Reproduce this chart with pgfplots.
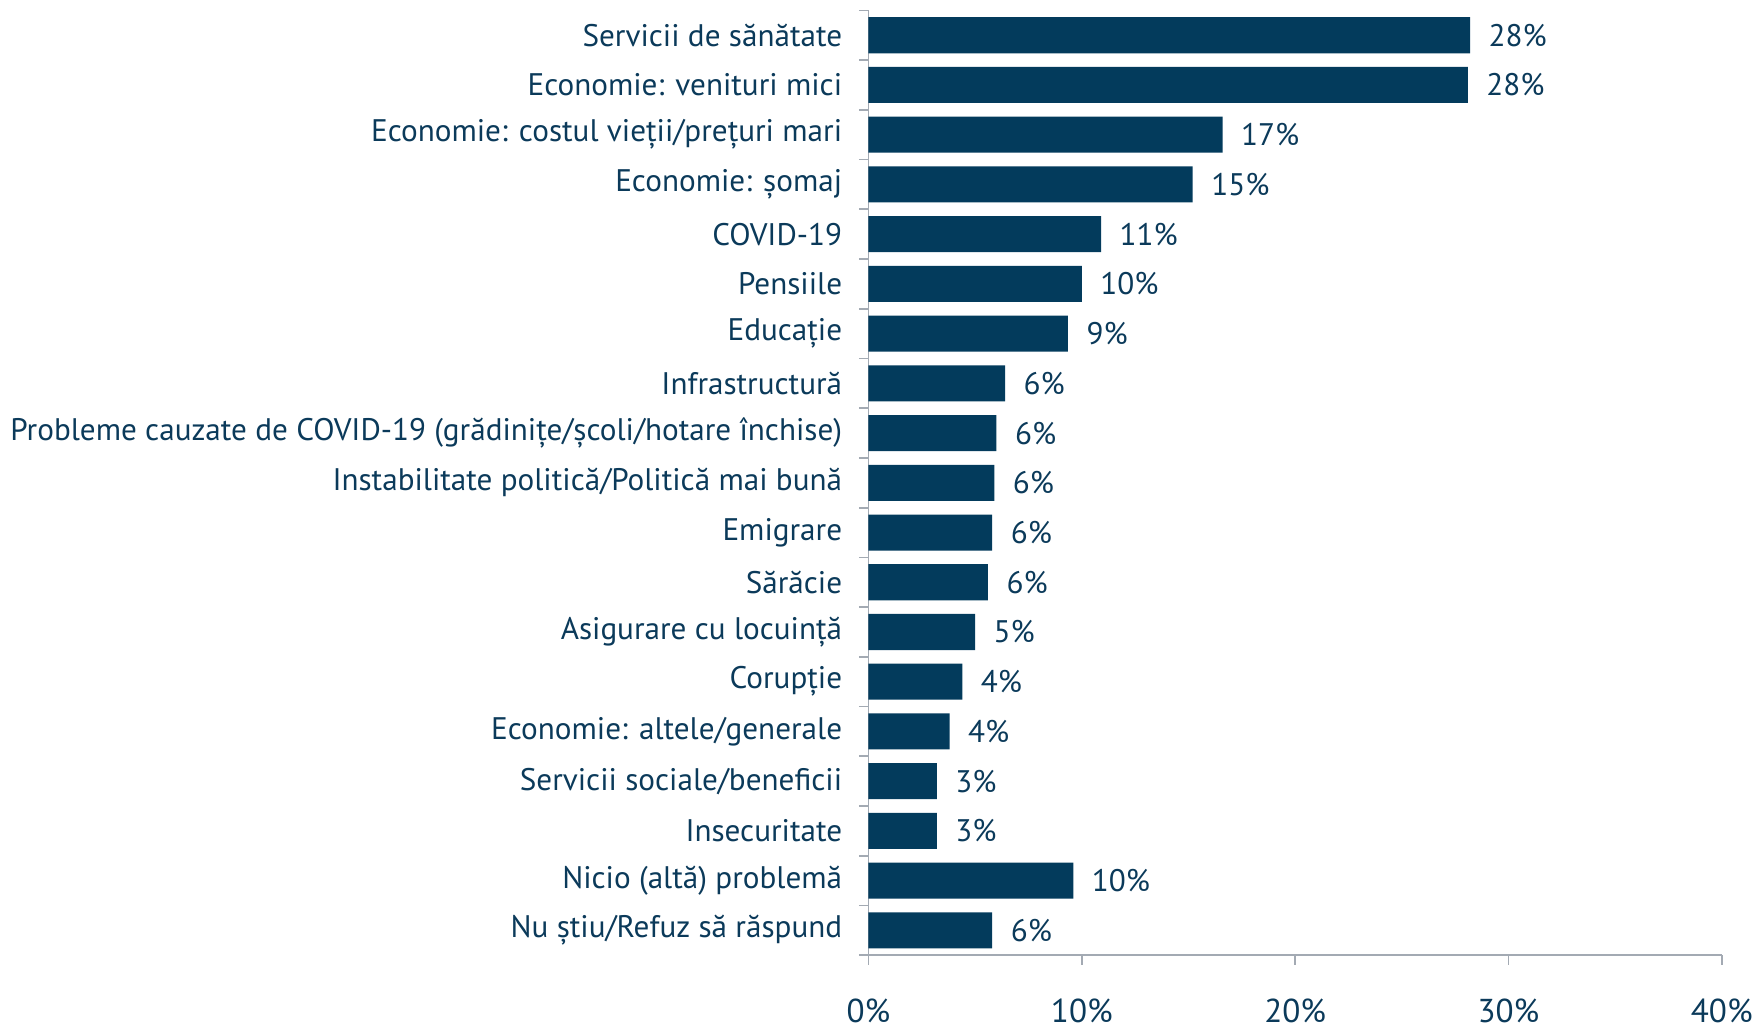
\documentclass[border=0pt]{standalone}
\usepackage{fontspec}
\setmainfont{PT Sans}
\usepackage{pgfplots}
\pgfplotsset{compat=1.18}
\definecolor{barblue}{HTML}{033B5C}
\definecolor{txtblue}{HTML}{0B3A5A}
\definecolor{axgray}{HTML}{A3AAB3}
\begin{document}
\fontsize{16}{19}\selectfont
\begin{tikzpicture}
\begin{axis}[
  scale only axis,
  width=438pt, height=485pt,
  xbar, bar width=18.5pt,
  xmin=0, xmax=40,
  ymin=-0.5, ymax=18.5,
  y dir=reverse,
  axis lines*=left,
  axis line style={draw=axgray, line width=0.9pt},
  tick align=outside,
  major tick length=5pt,
  xtick={0,10,20,30,40},
  xticklabels={0\%,10\%,20\%,30\%,40\%},
  x tick label style={font=\fontsize{17}{19}\selectfont, text=txtblue, yshift=-12pt},
  x tick style={draw=axgray, line width=0.9pt},
  ytick={-0.5,0.5,...,18.5},
  yticklabels={},
  y tick style={draw=axgray, line width=0.9pt},
  extra y ticks={0,1,...,18},
  extra y tick labels={Servicii de sănătate, Economie: venituri mici, Economie: costul vieții/prețuri mari, Economie: șomaj, COVID-19, Pensiile, Educație, Infrastructură, Probleme cauzate de COVID-19 (grădinițe/școli/hotare închise), Instabilitate politică/Politică mai bună, Emigrare, Sărăcie, Asigurare cu locuință, Corupție, Economie: altele/generale, Servicii sociale/beneficii, Insecuritate, Nicio (altă) problemă, Nu știu/Refuz să răspund},
  extra y tick style={major tick length=0pt, tick style={draw=none}},
  y tick label style={text=txtblue, xshift=-8pt},
  point meta=explicit symbolic,
  nodes near coords={\pgfplotspointmeta\%},
  nodes near coords style={text=txtblue, anchor=west, xshift=4pt},
  clip=false,
]
\addplot[fill=barblue, draw=none] coordinates {
  (28.2,0) [28]
  (28.1,1) [28]
  (16.6,2) [17]
  (15.2,3) [15]
  (10.9,4) [11]
  (10.0,5) [10]
  (9.35,6) [9]
  (6.4,7) [6]
  (6.0,8) [6]
  (5.9,9) [6]
  (5.8,10) [6]
  (5.6,11) [6]
  (5.0,12) [5]
  (4.4,13) [4]
  (3.8,14) [4]
  (3.2,15) [3]
  (3.2,16) [3]
  (9.6,17) [10]
  (5.8,18) [6]
};
\end{axis}
\end{tikzpicture}
\end{document}
